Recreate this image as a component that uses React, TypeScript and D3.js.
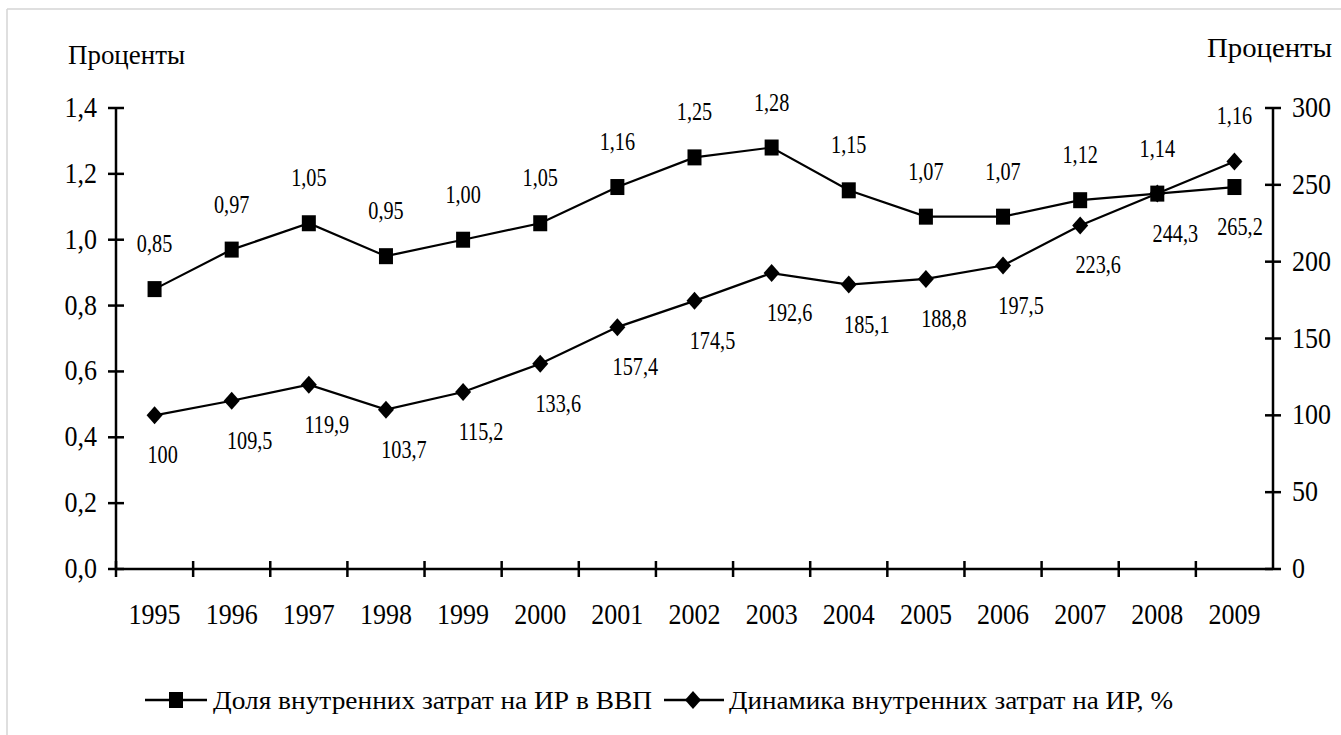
import React from "react";
import * as d3 from "d3";

// data
const years = ["1995", "1996", "1997", "1998", "1999", "2000", "2001", "2002", "2003", "2004", "2005", "2006", "2007", "2008", "2009"];
const shareOfGdp = [0.85, 0.97, 1.05, 0.95, 1.0, 1.05, 1.16, 1.25, 1.28, 1.15, 1.07, 1.07, 1.12, 1.14, 1.16];
const dynamics = [100, 109.5, 119.9, 103.7, 115.2, 133.6, 157.4, 174.5, 192.6, 185.1, 188.8, 197.5, 223.6, 244.3, 265.2];
const leftTicks = [0, 0.2, 0.4, 0.6, 0.8, 1.0, 1.2, 1.4];
const rightTicks = [0, 50, 100, 150, 200, 250, 300];
const seriesNames = ["Доля внутренних затрат на ИР в ВВП", "Динамика внутренних затрат на ИР, %"];
const axisTitle = "Проценты";

const W = 1341;
const H = 735;
const FONT = "'Times New Roman', 'Liberation Serif', 'DejaVu Serif', serif";

const comma = (s: string) => s.replace(".", ",");
const fmt2 = (v: number) => comma(v.toFixed(2));
const fmt1 = (v: number) => (Number.isInteger(v) ? String(v) : comma(v.toFixed(1)));

export default function App() {
  const x = d3.scaleBand<string>().domain(years).range([116, 1273]).padding(0);
  const yL = d3.scaleLinear().domain([0, 1.4]).range([569, 108]);
  const yR = d3.scaleLinear().domain([0, 300]).range([569, 108]);
  const cx = (i: number) => (x(years[i]) as number) + x.bandwidth() / 2;

  const lineL = d3
    .line<number>()
    .x((_d, i) => cx(i))
    .y((d) => yL(d));
  const lineR = d3
    .line<number>()
    .x((_d, i) => cx(i))
    .y((d) => yR(d));

  const square = (px: number, py: number, key: string) => (
    <rect key={key} x={px - 7} y={py - 8} width={14} height={16} fill="#000" />
  );
  const diamond = (px: number, py: number, key: string) => (
    <path key={key} d={`M${px},${py - 9}L${px + 8},${py}L${px},${py + 9}L${px - 8},${py}Z`} fill="#000" />
  );

  const label = (px: number, py: number, txt: string, key: string) => (
    <text
      key={key}
      transform={`translate(${px},${py}) scale(0.92,1.12)`}
      textAnchor="middle"
      fontSize={22}
      fill="#000"
    >
      {txt}
    </text>
  );

  return (
    <div style={{ position: "fixed", left: 0, top: 0, width: W, height: H, background: "#fff" }}>
      <svg width={W} height={H} fontFamily={FONT} style={{ display: "block" }}>
        {/* frame */}
        <line x1={7} y1={9} x2={W} y2={9} stroke="#d4d4d4" strokeWidth={1.5} />
        <line x1={7} y1={9} x2={7} y2={H} stroke="#d4d4d4" strokeWidth={1.5} />

        {/* axis titles */}
        <text transform="translate(68,64) scale(1,1.05)" fontSize={26} textLength={117} lengthAdjust="spacingAndGlyphs">
          {axisTitle}
        </text>
        <text transform="translate(1207,57) scale(1,1.05)" fontSize={26} textLength={125} lengthAdjust="spacingAndGlyphs">
          {axisTitle}
        </text>

        {/* left axis */}
        <line x1={116} y1={yL(0)} x2={116} y2={yL(1.4)} stroke="#000" strokeWidth={2.5} />
        {leftTicks.map((t) => (
          <g key={"lt" + t}>
            <line x1={108} x2={124} y1={yL(t)} y2={yL(t)} stroke="#000" strokeWidth={2.5} />
            <text transform={`translate(97,${yL(t) + 9}) scale(1,1.1)`} textAnchor="end" fontSize={26}>
              {comma(t.toFixed(1))}
            </text>
          </g>
        ))}

        {/* right axis */}
        <line x1={1273} y1={yR(0)} x2={1273} y2={yR(300)} stroke="#000" strokeWidth={2.5} />
        {rightTicks.map((t) => (
          <g key={"rt" + t}>
            <line x1={1265} x2={1281} y1={yR(t)} y2={yR(t)} stroke="#000" strokeWidth={2.5} />
            <text transform={`translate(1292,${yR(t) + 9}) scale(1,1.1)`} fontSize={26}>
              {t}
            </text>
          </g>
        ))}

        {/* x axis */}
        <line x1={116} x2={1273} y1={569} y2={569} stroke="#000" strokeWidth={2.5} />
        {years.map((yr, i) => (
          <g key={"xt" + yr}>
            <line x1={x(yr) as number} x2={x(yr) as number} y1={561} y2={577} stroke="#000" strokeWidth={2.5} />
            <text transform={`translate(${cx(i)},${624}) scale(1,1.1)`} textAnchor="middle" fontSize={26}>
              {yr}
            </text>
          </g>
        ))}

        {/* series lines */}
        <path d={lineL(shareOfGdp) as string} fill="none" stroke="#000" strokeWidth={2.2} />
        <path d={lineR(dynamics) as string} fill="none" stroke="#000" strokeWidth={2.2} />
        {shareOfGdp.map((v, i) => square(cx(i), yL(v), "sq" + i))}
        {dynamics.map((v, i) => diamond(cx(i), yR(v), "di" + i))}

        {/* data labels: share above the upper marker, dynamics below the lower one */}
        {years.map((_yr, i) => {
          const ys = yL(shareOfGdp[i]);
          const yd = yR(dynamics[i]);
          const top = Math.min(ys, yd);
          const bottom = Math.max(ys, yd);
          const dx = Math.min(cx(i) + (i === 0 ? 8 : 18), 1240);
          return (
            <g key={"lb" + i}>
              {label(cx(i), top - 37, fmt2(shareOfGdp[i]), "a")}
              {label(dx, bottom + 48, fmt1(dynamics[i]), "b")}
            </g>
          );
        })}

        {/* legend */}
        <g>
          <line x1={145} x2={207} y1={700} y2={700} stroke="#000" strokeWidth={2.5} />
          {square(176, 700, "lg1")}
          <text x={213} y={709} fontSize={26} textLength={439} lengthAdjust="spacingAndGlyphs">
            {seriesNames[0]}
          </text>
          <line x1={664} x2={724} y1={700} y2={700} stroke="#000" strokeWidth={2.5} />
          {diamond(693, 700, "lg2")}
          <text x={729} y={709} fontSize={26} textLength={444} lengthAdjust="spacingAndGlyphs">
            {seriesNames[1]}
          </text>
        </g>
      </svg>
    </div>
  );
}
